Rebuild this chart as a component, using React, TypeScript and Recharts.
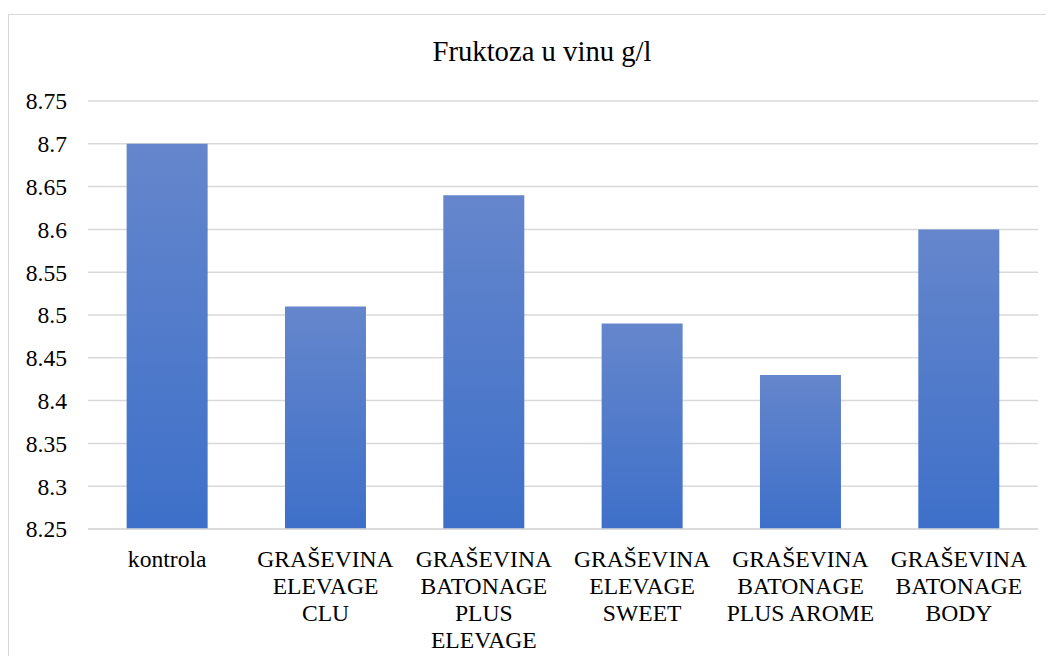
import React from 'react';
import { BarChart, Bar, XAxis, YAxis, CartesianGrid } from 'recharts';

const categories = [
  'kontrola',
  'GRAŠEVINA ELEVAGE CLU',
  'GRAŠEVINA BATONAGE PLUS ELEVAGE',
  'GRAŠEVINA ELEVAGE SWEET',
  'GRAŠEVINA BATONAGE PLUS AROME',
  'GRAŠEVINA BATONAGE BODY',
];

// how each category label wraps under the axis
const labelLines = [
  ['kontrola'],
  ['GRAŠEVINA', 'ELEVAGE', 'CLU'],
  ['GRAŠEVINA', 'BATONAGE', 'PLUS', 'ELEVAGE'],
  ['GRAŠEVINA', 'ELEVAGE', 'SWEET'],
  ['GRAŠEVINA', 'BATONAGE', 'PLUS AROME'],
  ['GRAŠEVINA', 'BATONAGE', 'BODY'],
];

const fruktoza = [8.7, 8.51, 8.64, 8.49, 8.43, 8.6];

const yTicks = [8.25, 8.3, 8.35, 8.4, 8.45, 8.5, 8.55, 8.6, 8.65, 8.7, 8.75];

const data = categories.map((name, i) => ({ name, value: fruktoza[i] }));

const FONT = "'Liberation Serif', 'Times New Roman', serif";
const textStyle = { fontFamily: FONT, fontSize: 23.6 };

function CategoryTick({ x, y, index }: { x?: number; y?: number; index?: number }) {
  const lines = labelLines[index ?? 0] || [];
  return (
    <text x={x} y={y} textAnchor="middle" fill="#000" style={textStyle}>
      {lines.map((line, i) => (
        <tspan key={i} x={x} dy={i === 0 ? 38 : 27}>
          {line}
        </tspan>
      ))}
    </text>
  );
}

function ValueTick({ x, y, payload }: { x?: number; y?: number; payload?: { value: number } }) {
  return (
    <text x={x} y={y} dy="0.355em" textAnchor="end" fill="#000" style={textStyle}>
      {String(payload?.value)}
    </text>
  );
}

export default function App() {
  return (
    <div
      style={{
        position: 'relative',
        marginTop: 6,
        width: 1037,
        height: 649,
        marginBottom: -8,
        borderTop: '1px solid #d9d9d9',
        borderLeft: '1px solid #d9d9d9',
        background: '#fff',
        fontFamily: FONT,
      }}
    >
      <div
        style={{
          position: 'absolute',
          left: 533,
          top: 22,
          transform: 'translateX(-50%)',
          whiteSpace: 'nowrap',
          fontSize: 28.7,
          lineHeight: '29px',
          color: '#000',
        }}
      >
        Fruktoza u vinu g/l
      </div>
      <BarChart
        width={1036}
        height={648}
        data={data}
        margin={{ top: 86, right: 7, bottom: 14, left: 0 }}
        barCategoryGap="24.4%"
      >
        <defs>
          <linearGradient id="barFill" x1="0" y1="0" x2="0" y2="1">
            <stop offset="0%" stopColor="#6586CC" />
            <stop offset="100%" stopColor="#3E70C9" />
          </linearGradient>
        </defs>
        <CartesianGrid vertical={false} stroke="#d9d9d9" strokeWidth={1.5} />
        <XAxis
          dataKey="name"
          interval={0}
          height={120}
          tickSize={0}
          tickMargin={0}
          tickLine={false}
          axisLine={{ stroke: '#d9d9d9', strokeWidth: 1.5 }}
          tick={<CategoryTick />}
        />
        <YAxis
          width={79}
          domain={[8.25, 8.75]}
          ticks={yTicks}
          allowDataOverflow
          axisLine={false}
          tickLine={false}
          tickSize={0}
          tickMargin={21}
          tick={<ValueTick />}
        />
        <Bar dataKey="value" fill="url(#barFill)" isAnimationActive={false} />
      </BarChart>
    </div>
  );
}
